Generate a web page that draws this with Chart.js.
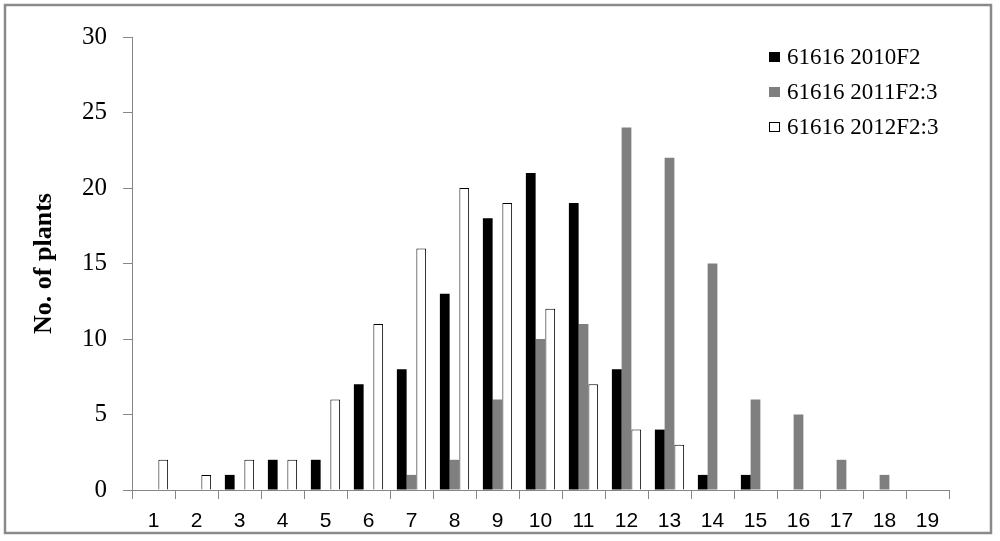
<!DOCTYPE html>
<html>
<head>
<meta charset="utf-8">
<script src="https://cdn.jsdelivr.net/npm/chart.js@4"></script>
<style>
  html, body { margin: 0; padding: 0; background: #fff; }
  #wrap { width: 1000px; height: 541px; }
</style>
</head>
<body>
<div id="wrap"><canvas id="chart" width="1000" height="541"></canvas></div>
<script>
// categories 1..19
const categories = ['1','2','3','4','5','6','7','8','9','10','11','12','13','14','15','16','17','18','19'];

// number of plants per class
const plants2010F2  = [0, 0, 1, 2, 2, 7, 8, 13, 18, 21, 19, 8, 4, 1, 1, 0, 0, 0, 0];
const plants2011F23 = [0, 0, 0, 0, 0, 0, 1, 2, 6, 10, 11, 24, 22, 15, 6, 5, 2, 1, 0];
const plants2012F23 = [2, 1, 2, 2, 6, 11, 16, 20, 19, 12, 7, 4, 3, 0, 0, 0, 0, 0, 0];

const seriesNames = ['61616 2010F2', '61616 2011F2:3', '61616 2012F2:3'];
const yTicks = [0, 5, 10, 15, 20, 25, 30];

const axisGray = '#868686';

// white background + gray frame round the picture
const framePlugin = {
  id: 'frame',
  beforeDraw(chart) {
    const ctx = chart.ctx;
    ctx.save();
    ctx.fillStyle = '#fff';
    ctx.fillRect(0, 0, chart.width, chart.height);
    ctx.strokeStyle = '#8a8a8a';
    ctx.lineWidth = 2.5;
    ctx.strokeRect(5, 5, 986, 528);
    ctx.restore();
  }
};

// legend drawn inside the plot, top right, one row per series
const legendPlugin = {
  id: 'boxLegend',
  afterDraw(chart) {
    const ctx = chart.ctx;
    ctx.save();
    ctx.font = '23px "Liberation Serif", "Times New Roman", serif';
    ctx.textBaseline = 'middle';
    chart.data.datasets.forEach((ds, i) => {
      const y = 57 + i * 35;
      ctx.fillStyle = ds.backgroundColor;
      ctx.fillRect(769, y - 5, 11, 10);
      if (ds.borderWidth) {
        ctx.strokeStyle = '#000';
        ctx.lineWidth = 1;
        ctx.strokeRect(769.5, y - 4.5, 10, 9);
      }
      ctx.fillStyle = '#000';
      ctx.fillText(ds.label, 787, y + 1);
    });
    ctx.restore();
  }
};

new Chart(document.getElementById('chart'), {
  type: 'bar',
  data: {
    labels: categories,
    datasets: [
      { label: seriesNames[0], data: plants2010F2, backgroundColor: '#000000', borderWidth: 0 },
      { label: seriesNames[1], data: plants2011F23, backgroundColor: '#7f7f7f', borderWidth: 0 },
      { label: seriesNames[2], data: plants2012F23, backgroundColor: '#ffffff', borderColor: '#000000', borderWidth: 1 }
    ]
  },
  options: {
    responsive: false,
    animation: false,
    layout: { padding: { left: 0, top: 37, right: 51, bottom: 0 } },
    datasets: { bar: { categoryPercentage: 0.68, barPercentage: 1.0 } },
    plugins: {
      legend: { display: false },
      tooltip: { enabled: false }
    },
    scales: {
      x: {
        grid: { drawOnChartArea: false, color: axisGray, tickLength: 9, offset: true },
        border: { color: axisGray, width: 1 },
        ticks: {
          color: '#000',
          padding: 10,
          font: { family: '"Liberation Sans", Arial, sans-serif', size: 21 }
        },
        afterFit(scale) { scale.height = 51; }
      },
      y: {
        min: 0,
        max: 30,
        afterBuildTicks(scale) { scale.ticks = yTicks.map(v => ({ value: v })); },
        grid: { drawOnChartArea: false, color: axisGray, tickLength: 9 },
        border: { color: axisGray, width: 1 },
        ticks: {
          color: '#000',
          padding: 16,
          font: { family: '"Liberation Serif", "Times New Roman", serif', size: 25 }
        },
        title: {
          display: true,
          text: 'No. of plants',
          color: '#000',
          padding: { top: 29, bottom: 0 },
          font: { family: '"Liberation Serif", "Times New Roman", serif', size: 26, weight: 'bold' }
        },
        afterFit(scale) { scale.width = 132; }
      }
    }
  },
  plugins: [framePlugin, legendPlugin]
});
</script>
</body>
</html>
